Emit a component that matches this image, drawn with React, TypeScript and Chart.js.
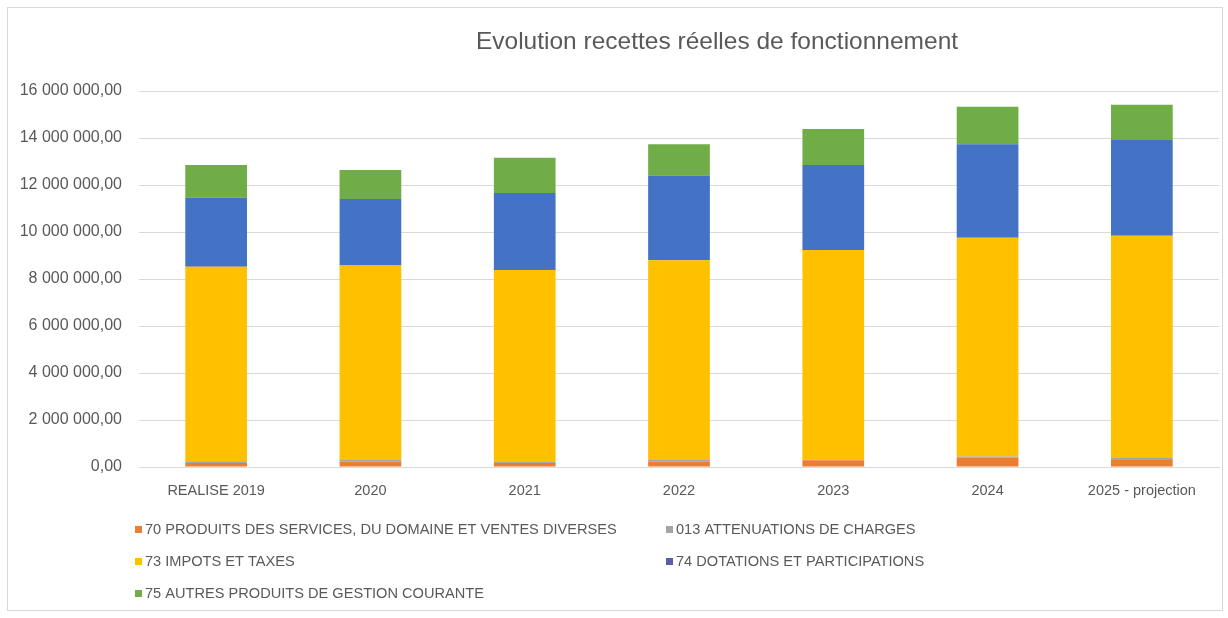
import React, { useEffect, useRef } from "react";
import { Chart, registerables } from "chart.js";

Chart.register(...registerables);

const categories = ["REALISE 2019", "2020", "2021", "2022", "2023", "2024", "2025 - projection"];
const produits70 = [170000, 230000, 170000, 230000, 290000, 400000, 300000];
const attenuations013 = [70000, 70000, 40000, 70000, 30000, 50000, 80000];
const impots73 = [8280000, 8270000, 8170000, 8500000, 8910000, 9310000, 9460000];
const dotations74 = [2940000, 2830000, 3280000, 3600000, 3620000, 3970000, 4070000];
const autres75 = [1390000, 1240000, 1500000, 1330000, 1530000, 1600000, 1510000];

const seriesLabels = [
  "70 PRODUITS DES SERVICES, DU DOMAINE ET VENTES DIVERSES",
  "013 ATTENUATIONS DE CHARGES",
  "73 IMPOTS ET TAXES",
  "74 DOTATIONS ET PARTICIPATIONS",
  "75 AUTRES PRODUITS DE GESTION COURANTE",
];
const seriesColors = ["#ED7D31", "#A5A5A5", "#FFC000", "#4472C4", "#70AD47"];
const legendMarkerColors = ["#ED7D31", "#A5A5A5", "#FFC000", "#5B5EA6", "#70AD47"];

const titleText = "Evolution recettes réelles de fonctionnement";
const yMax = 16000000;
const yStep = 2000000;

const FONT = "'Liberation Sans', Arial, sans-serif";
const TEXT = "#595959";

function formatFr(v: number): string {
  const n = Math.round(Number(v));
  const s = String(Math.abs(n)).replace(/\B(?=(\d{3})+(?!\d))/g, " ");
  return (n < 0 ? "-" : "") + s + ",00";
}

const titlePlugin = {
  id: "customTitle",
  afterDraw(chart: any) {
    const ctx = chart.ctx;
    ctx.save();
    ctx.font = `24.5px ${FONT}`;
    ctx.fillStyle = TEXT;
    ctx.textAlign = "center";
    ctx.textBaseline = "middle";
    ctx.fillText(titleText, 717, 42);
    ctx.restore();
  },
};

const legendSlots = [
  { x: 135, y: 530 },
  { x: 666, y: 530 },
  { x: 135, y: 562 },
  { x: 666, y: 562 },
  { x: 135, y: 594 },
];

const legendPlugin = {
  id: "customLegend",
  afterDraw(chart: any) {
    const ctx = chart.ctx;
    ctx.save();
    ctx.font = `14.6px ${FONT}`;
    ctx.textBaseline = "middle";
    ctx.textAlign = "left";
    chart.data.datasets.forEach((ds: any, i: number) => {
      const slot = legendSlots[i];
      if (!slot) return;
      ctx.fillStyle = legendMarkerColors[i];
      ctx.fillRect(slot.x, slot.y - 4, 7, 7);
      ctx.fillStyle = TEXT;
      ctx.fillText(ds.label, slot.x + 10, slot.y);
    });
    ctx.restore();
  },
};

export default function App() {
  const canvasRef = useRef<HTMLCanvasElement | null>(null);

  useEffect(() => {
    if (!canvasRef.current) return;
    const seriesData = [produits70, attenuations013, impots73, dotations74, autres75];
    const chart = new Chart(canvasRef.current, {
      type: "bar",
      data: {
        labels: categories,
        datasets: seriesData.map((d, i) => ({
          label: seriesLabels[i],
          data: d,
          backgroundColor: seriesColors[i],
          borderWidth: 0,
          categoryPercentage: 1,
          barPercentage: 0.4,
        })),
      },
      options: {
        responsive: true,
        maintainAspectRatio: false,
        animation: false,
        layout: { padding: { left: 8, right: 9, top: 91, bottom: 0 } },
        plugins: {
          legend: { display: false },
          title: { display: false },
          tooltip: { enabled: false },
        },
        scales: {
          x: {
            stacked: true,
            grid: { display: false, drawTicks: false },
            border: { display: true, color: "#d9d9d9", width: 1 },
            ticks: {
              color: TEXT,
              font: { family: FONT, size: 14.5 },
              padding: 15,
              maxRotation: 0,
              autoSkip: false,
            },
            afterFit(s: any) {
              s.height = 151;
            },
          },
          y: {
            stacked: true,
            min: 0,
            max: yMax,
            grid: { color: "#d9d9d9", drawTicks: false, lineWidth: 1 },
            border: { display: false },
            ticks: {
              stepSize: yStep,
              color: TEXT,
              font: { family: FONT, size: 16 },
              padding: 17,
              callback: (v: any) => formatFr(Number(v)),
            },
            afterFit(s: any) {
              s.width = 131;
            },
          },
        },
      },
      plugins: [titlePlugin, legendPlugin],
    });
    return () => chart.destroy();
  }, []);

  return (
    <div
      style={{
        position: "fixed",
        left: 0,
        top: 0,
        width: 1228,
        height: 618,
        background: "#ffffff",
      }}
    >
      <div
        style={{
          position: "absolute",
          left: 7,
          top: 7,
          width: 1216,
          height: 604,
          border: "1px solid #d9d9d9",
          boxSizing: "border-box",
        }}
      />
      <div style={{ position: "absolute", left: 0, top: 0, width: 1228, height: 618 }}>
        <canvas ref={canvasRef} />
      </div>
    </div>
  );
}
